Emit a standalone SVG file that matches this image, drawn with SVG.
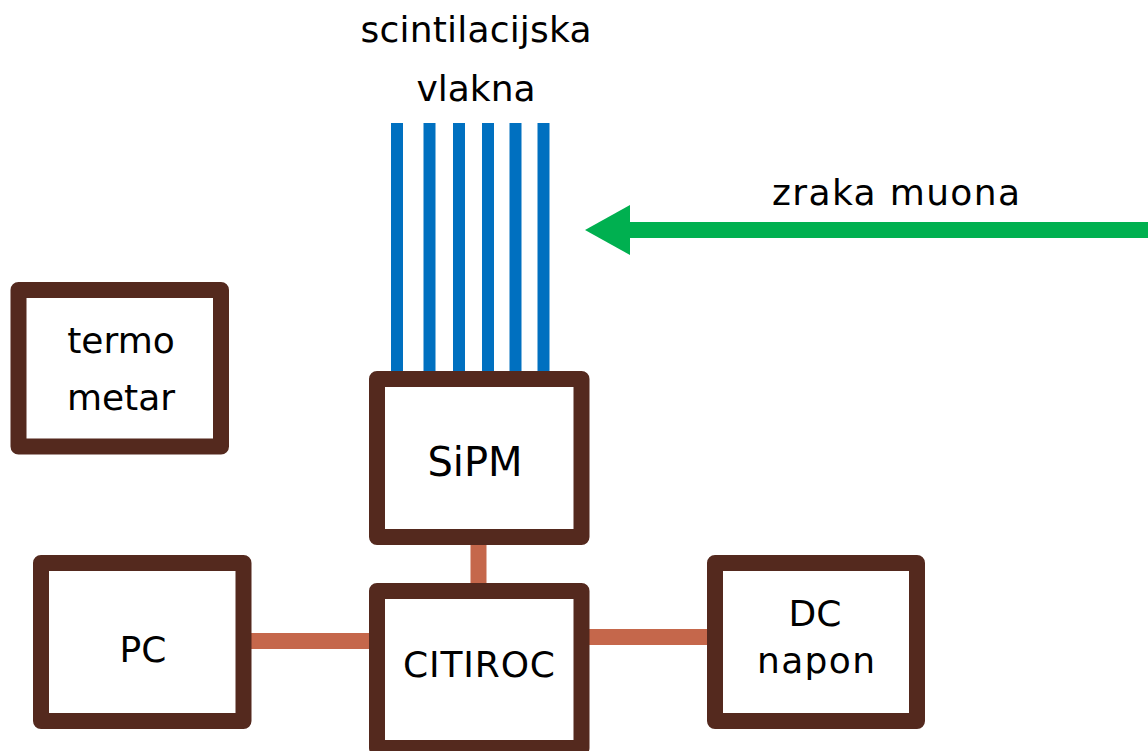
<svg xmlns="http://www.w3.org/2000/svg" width="1148" height="751" viewBox="0 0 1148 751">
<style>
.box{fill:#fff;stroke:#54291E;stroke-width:16;stroke-linejoin:round}
.lbl{font-family:"DejaVu Sans",sans-serif;font-size:36px;fill:#000;text-anchor:middle}
.fiber{stroke:#0070C0;stroke-width:12}
.link{stroke:#C5674B;stroke-width:16}
</style>
<rect width="1148" height="751" fill="#fff"/>
<g id="fibers">
<line class="fiber" x1="397" y1="123" x2="397" y2="380"/>
<line class="fiber" x1="429.5" y1="123" x2="429.5" y2="380"/>
<line class="fiber" x1="459" y1="123" x2="459" y2="380"/>
<line class="fiber" x1="488" y1="123" x2="488" y2="380"/>
<line class="fiber" x1="515.5" y1="123" x2="515.5" y2="380"/>
<line class="fiber" x1="543.5" y1="123" x2="543.5" y2="380"/>
<text class="lbl" x="476" y="42" textLength="231">scintilacijska</text>
<text class="lbl" x="476" y="101">vlakna</text>
</g>
<g id="connectors">
<line class="link" x1="478.5" y1="540" x2="478.5" y2="588"/>
<line class="link" x1="245" y1="641" x2="372" y2="641"/>
<line class="link" x1="586" y1="637" x2="712" y2="637"/>
</g>
<g id="muon">
<line x1="620" y1="230" x2="1148" y2="230" stroke="#00B050" stroke-width="16"/>
<polygon points="585,230 630,205 630,255" fill="#00B050"/>
<text class="lbl" x="896" y="205" textLength="248">zraka muona</text>
</g>
<g id="termometar">
<rect class="box" x="18.5" y="290" width="202.5" height="156.5"/>
<text class="lbl" x="121" y="353">termo</text>
<text class="lbl" x="121" y="410">metar</text>
</g>
<g id="sipm">
<rect class="box" x="377" y="379" width="204.5" height="158"/>
<text class="lbl" x="475" y="476" style="font-size:40px">SiPM</text>
</g>
<g id="citiroc">
<rect class="box" x="377" y="591" width="204.5" height="157"/>
<text class="lbl" x="479" y="677" textLength="152">CITIROC</text>
</g>
<g id="pc">
<rect class="box" x="41" y="563" width="202.5" height="158"/>
<text class="lbl" x="143" y="662">PC</text>
</g>
<g id="dc">
<rect class="box" x="715" y="563" width="202" height="158"/>
<text class="lbl" x="815" y="626">DC</text>
<text class="lbl" x="816" y="673" textLength="118">napon</text>
</g>
</svg>
